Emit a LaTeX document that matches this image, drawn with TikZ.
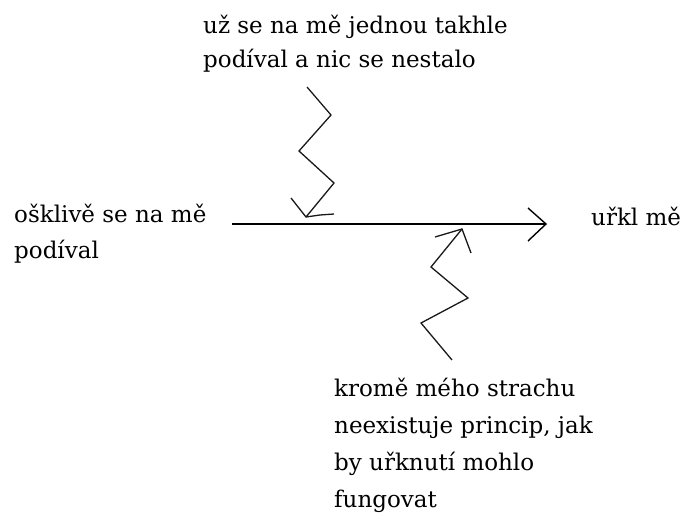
\documentclass[tikz,border=0pt]{standalone}
\usepackage{fontspec}
\setmainfont{DejaVu Serif}
\begin{document}
\begin{tikzpicture}[x=1pt,y=-1pt,
  lbl/.style={inner sep=0pt, anchor=base west, align=left},
  mainln/.style={line width=1.4pt, black},
  zz/.style={line width=1.3pt, black!90, line join=miter}]
\useasboundingbox (0,0) rectangle (682,515);
% labels (base anchor = baseline of the last line)
\node[lbl, font=\fontsize{23}{34}\selectfont] (top) at (203,67) {už se na mě jednou takhle\\podíval a nic se nestalo};
\node[lbl, font=\fontsize{23}{36}\selectfont] (left) at (14,258) {ošklivě se na mě\\podíval};
\node[lbl, font=\fontsize{23}{36}\selectfont] (right) at (591,225) {uřkl mě};
\node[lbl, font=\fontsize{23}{36.7}\selectfont] (bottom) at (334,507) {kromě mého strachu\\neexistuje princip, jak\\by uřknutí mohlo\\fungovat};
% main arrow
\coordinate (ms) at (232,224);
\coordinate (me) at (546,224);
\draw[mainln] (ms) -- (me);
\draw[mainln] (528,208) -- (me) -- (528,241);
% upper zigzag
\coordinate (ut) at (306,217);
\draw[zz] (307,87) -- (331,115) -- (299,151) -- (334,183) -- (ut);
\draw[zz] (291,198) -- (ut) -- (320,215) -- (334,214);
% lower zigzag
\coordinate (lt) at (462,229);
\draw[zz] (452,360) -- (421,323) -- (468,298) -- (431,267) -- (lt);
\draw[zz] (435,237) -- (lt) -- (471,253);
\end{tikzpicture}
\end{document}
